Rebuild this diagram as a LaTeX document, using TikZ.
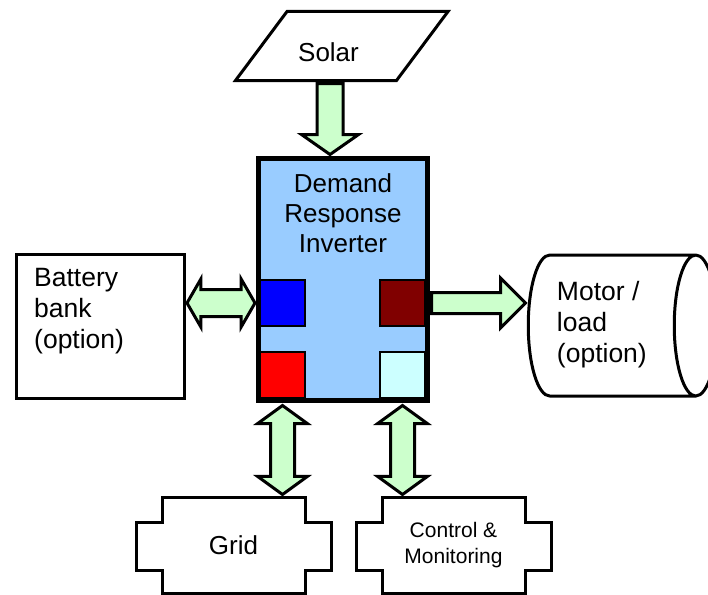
\documentclass[tikz,border=0pt]{standalone}
\usepackage{fontspec}
\setmainfont{Liberation Sans}
\usetikzlibrary{calc,shapes.geometric,shapes.arrows}
\definecolor{InvBlue}{HTML}{99CCFF}
\definecolor{Mint}{HTML}{CCFFCC}
\definecolor{Maroon}{HTML}{800000}
\definecolor{Ice}{HTML}{CCFFFF}
\begin{document}
\begin{tikzpicture}[x=1pt,y=-1pt,
    b/.style={draw,line width=3pt,font=\fontsize{26}{31}\selectfont},
    t/.style={align=left,inner sep=0pt,font=\fontsize{26.5}{31}\selectfont},
    sq/.style={draw,line width=2pt,minimum width=45pt,minimum height=46pt,inner sep=0pt},
    body/.style={minimum width=143pt,minimum height=96pt,outer sep=0pt,align=center},
    sa/.style={single arrow,draw,fill=Mint,line width=3pt,inner xsep=0pt,minimum width=0pt,single arrow head indent=0pt,anchor=tail},
    da/.style={double arrow,draw,fill=Mint,line width=3pt,inner xsep=0pt,minimum width=0pt,double arrow head indent=0pt}]
  \useasboundingbox (0,0) rectangle (708,594);
  \node[font=\fontsize{26}{31}\selectfont] (sol) at (328.5,52) {Solar};
  \draw[line width=3pt] ($(sol)+(-93,28.5)$) -- ++(161,0) -- ++(51.5,-69) -- ++(-161,0) -- cycle;
  \node[draw,line width=5pt,fill=InvBlue,minimum width=169pt,minimum height=242pt,
    label={[anchor=north,yshift=-17.5pt,align=center,inner sep=0pt,font=\fontsize{26}{30}\selectfont]north:Demand\\Response\\Inverter}] (inv) at (343,279.5) {};
  \node[sq,fill=blue] (bsq) at (282.5,303) {};
  \node[sq,fill=Maroon] (msq) at (402.5,303) {};
  \node[sq,fill=red] (rsq) at (282.5,374.5) {};
  \node[sq,fill=Ice] (isq) at (402.5,374.5) {};
  \node[b,minimum width=168pt,minimum height=144pt,label={[t,anchor=north west,xshift=19pt,yshift=-15pt]north west:Battery\\bank\\(option)}] (bat) at (100.5,326.5) {};
  \node[b,cylinder,aspect=0.305,inner xsep=0pt,inner ysep=70.5pt,minimum height=189pt,label={[t,anchor=north west,xshift=30pt,yshift=44.5pt]west:Motor /\\load\\(option)}] (mot) at (600.5,325.5) {};
  \node[body,font=\fontsize{26}{31}\selectfont] (grid) at (233.5,545) {Grid};
  \node[body,font=\fontsize{21}{26}\selectfont] (ctrl) at (453.5,545) {Control \&\\Monitoring};
  \draw[line width=3pt] (grid.north west) -- (grid.north east) -- ++(0,25) -- ++(26,0) -- ++(0,48) -- ++(-26,0) -- (grid.south east) -- (grid.south west) -- ++(0,-23) -- ++(-26,0) -- ++(0,-48) -- ++(26,0) -- cycle;
  \draw[line width=3pt] (ctrl.north west) -- (ctrl.north east) -- ++(0,25) -- ++(26,0) -- ++(0,48) -- ++(-26,0) -- (ctrl.south east) -- (ctrl.south west) -- ++(0,-23) -- ++(-26,0) -- ++(0,-48) -- ++(26,0) -- cycle;
  \node[sa,rotate=-90,inner ysep=11.5pt,single arrow head extend=15.5pt,single arrow tip angle=110,minimum height=71pt] (a1) at ($(sol)+(1.5,30)$) {};
  \node[da,inner ysep=12pt,double arrow head extend=10.5pt,double arrow tip angle=120,minimum height=68pt] (a2) at ($(bat.east|-bsq)!.5!(inv.west|-bsq)$) {};
  \node[sa,inner ysep=9pt,single arrow head extend=14.5pt,single arrow tip angle=90,minimum height=94pt] (a3) at (inv.east|-msq) {};
  \node[da,rotate=90,inner ysep=10.5pt,double arrow head extend=13pt,double arrow tip angle=108,minimum height=89pt] (a4) at ($(rsq|-inv.south)!.5!(rsq|-grid.north)$) {};
  \node[da,rotate=90,inner ysep=10.5pt,double arrow head extend=13pt,double arrow tip angle=108,minimum height=89pt] (a5) at ($(isq|-inv.south)!.5!(isq|-ctrl.north)$) {};
\end{tikzpicture}
\end{document}
